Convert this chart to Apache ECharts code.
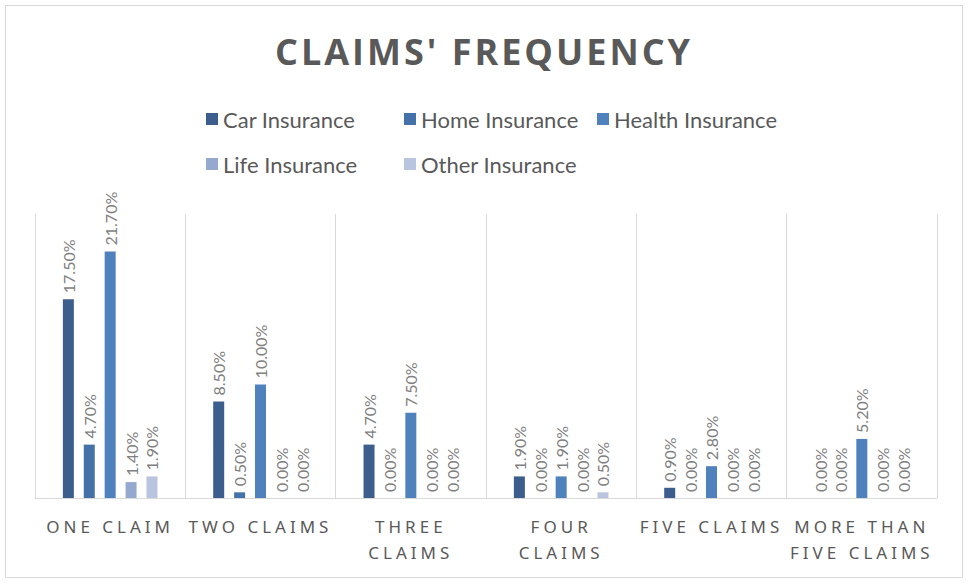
<!DOCTYPE html>
<html>
<head>
<meta charset="utf-8">
<script src="https://cdn.jsdelivr.net/npm/echarts@6/dist/echarts.min.js"></script>
<style>
  html, body { margin: 0; padding: 0; background: #fff; }
  #main { width: 968px; height: 583px; }
  /* letter spacing for title and category labels */
  #main text[style*="Open Sans"] { letter-spacing: 3px; }
  #main text[style*="Noto Sans"] { letter-spacing: 4px; }
</style>
</head>
<body>
<div id="main"></div>
<script>
// categories (line breaks as they wrap in the picture)
const categories = ['ONE CLAIM', 'TWO CLAIMS', 'THREE\nCLAIMS', 'FOUR\nCLAIMS', 'FIVE CLAIMS', 'MORE THAN\nFIVE CLAIMS'];

// values in %
const carInsurance    = [17.5, 8.5, 4.7, 1.9, 0.9, 0];
const homeInsurance   = [4.7, 0.5, 0, 0, 0, 0];
const healthInsurance = [21.7, 10.0, 7.5, 1.9, 2.8, 5.2];
const lifeInsurance   = [1.4, 0, 0, 0, 0, 0];
const otherInsurance  = [1.9, 0, 0, 0.5, 0, 0];

const seriesNames = ['Car Insurance', 'Home Insurance', 'Health Insurance', 'Life Insurance', 'Other Insurance'];
const seriesData = [carInsurance, homeInsurance, healthInsurance, lifeInsurance, otherInsurance];
const colors = ['#3b5e8c', '#4471a8', '#4f81bd', '#95a8d0', '#b9c5df'];

const chart = echarts.init(document.getElementById('main'), null, { renderer: 'svg' });

// legend laid out in columns, two rows
function legendColumn(left, names) {
    return {
        left: left,
        top: 108,
        padding: 0,
        orient: 'vertical',
        data: names,
        itemWidth: 12,
        itemHeight: 12,
        itemGap: 23,
        icon: 'rect',
        textStyle: { fontFamily: 'Lato', fontSize: 22, color: '#595959' }
    };
}

const option = {
    animation: false,
    color: colors,
    title: {
        text: "CLAIMS' FREQUENCY",
        left: 'center',
        top: 28,
        textStyle: { fontFamily: 'Open Sans', fontWeight: 'bold', fontSize: 36, color: '#595959' }
    },
    legend: [
        legendColumn(206, [seriesNames[0], seriesNames[3]]),
        legendColumn(404, [seriesNames[1], seriesNames[4]]),
        legendColumn(597, [seriesNames[2]])
    ],
    grid: { left: 35, right: 31, top: 214, bottom: 85, containLabel: false },
    xAxis: {
        type: 'category',
        data: categories,
        axisLine: { lineStyle: { color: '#d9d9d9', width: 1 } },
        axisTick: { show: false },
        splitLine: { show: true, lineStyle: { color: '#d9d9d9', width: 1 } },
        axisLabel: {
            interval: 0,
            margin: 15,
            fontFamily: 'Noto Sans',
            fontSize: 17,
            lineHeight: 26,
            color: '#595959'
        }
    },
    yAxis: {
        type: 'value',
        min: 0,
        max: 25,
        show: false,
        splitLine: { show: false }
    },
    series: seriesData.map(function(d, i) {
        return {
            name: seriesNames[i],
            type: 'bar',
            data: d,
            barWidth: 11,
            barGap: '90%',
            label: {
                show: true,
                position: 'top',
                rotate: 90,
                align: 'left',
                verticalAlign: 'middle',
                distance: 6,
                fontFamily: 'Lato',
                fontSize: 16,
                color: '#7f7f7f',
                formatter: function(p) { return p.value.toFixed(2) + '%'; }
            }
        };
    }),
    graphic: [{
        type: 'rect',
        shape: { x: 5.5, y: 5.5, width: 957, height: 572 },
        style: { fill: 'none', stroke: '#d9d9d9', lineWidth: 1 },
        silent: true
    }]
};

chart.setOption(option);
</script>
</body>
</html>
